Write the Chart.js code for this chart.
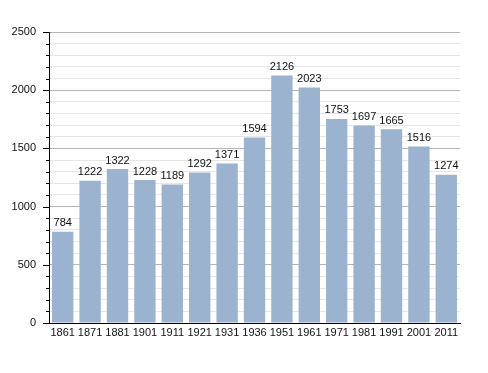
<!DOCTYPE html>
<html>
<head>
<meta charset="utf-8">
<script src="https://cdn.jsdelivr.net/npm/chart.js@4/dist/chart.umd.min.js"></script>
<style>
    html, body { margin: 0; padding: 0; background: #fff; }
    #wrap { width: 488px; height: 373px; position: relative; }
</style>
</head>
<body>
<div id="wrap"><canvas id="chart"></canvas></div>
<script>
const years = ['1861', '1871', '1881', '1901', '1911', '1921', '1931', '1936', '1951', '1961', '1971', '1981', '1991', '2001', '2011'];
const population = [784, 1222, 1322, 1228, 1189, 1292, 1371, 1594, 2126, 2023, 1753, 1697, 1665, 1516, 1274];
const yMax = 2500;
const majorStep = 500;
const minorStep = 100;

const FONT = "'Liberation Sans', Arial, sans-serif";

// value labels above each bar
const barLabels = {
    id: 'barLabels',
    afterDatasetsDraw(chart) {
        const ctx = chart.ctx;
        const meta = chart.getDatasetMeta(0);
        ctx.save();
        ctx.font = '11px ' + FONT;
        ctx.fillStyle = '#111';
        ctx.textAlign = 'center';
        ctx.textBaseline = 'bottom';
        meta.data.forEach((bar, i) => {
            ctx.fillText(String(population[i]), bar.x, bar.y - 3);
        });
        ctx.restore();
    }
};

// tick marks on the left of the y axis: long at majors, short at minors
const yTickMarks = {
    id: 'yTickMarks',
    afterDraw(chart) {
        const ctx = chart.ctx;
        const y = chart.scales.y;
        const x0 = chart.chartArea.left;
        ctx.save();
        ctx.strokeStyle = '#000';
        ctx.lineWidth = 1;
        for (let v = 0; v <= yMax; v += minorStep) {
            const py = Math.round(y.getPixelForValue(v)) + 0.5;
            const len = v % majorStep === 0 ? 6 : 3;
            ctx.beginPath();
            ctx.moveTo(x0 - len, py);
            ctx.lineTo(x0, py);
            ctx.stroke();
        }
        ctx.restore();
    }
};

new Chart(document.getElementById('chart'), {
    type: 'bar',
    data: {
        labels: years,
        datasets: [{
            data: population,
            backgroundColor: 'rgb(156, 179, 207)',
            borderWidth: 0,
            categoryPercentage: 1,
            barPercentage: 0.78
        }]
    },
    options: {
        responsive: true,
        maintainAspectRatio: false,
        animation: false,
        layout: { padding: { left: 0, top: 32, right: 28, bottom: 28 } },
        plugins: {
            legend: { display: false },
            tooltip: { enabled: false }
        },
        scales: {
            x: {
                grid: { display: false, drawTicks: false },
                border: { color: '#000', width: 1 },
                ticks: {
                    color: '#111',
                    font: { family: FONT, size: 11 },
                    padding: 3,
                    maxRotation: 0,
                    autoSkip: false
                },
                afterFit(scale) { scale.height = 22; }
            },
            y: {
                min: 0,
                max: yMax,
                grid: {
                    drawTicks: false,
                    color: ctx => (ctx.tick && ctx.tick.value % majorStep === 0) ? '#b4b4b4' : '#e6e6e6'
                },
                border: { color: '#000', width: 1 },
                ticks: {
                    stepSize: minorStep,
                    autoSkip: false,
                    color: '#111',
                    font: { family: FONT, size: 11 },
                    padding: 13,
                    callback: v => v % majorStep === 0 ? String(v) : ''
                },
                afterFit(scale) { scale.width = 49; }
            }
        }
    },
    plugins: [barLabels, yTickMarks]
});
</script>
</body>
</html>
